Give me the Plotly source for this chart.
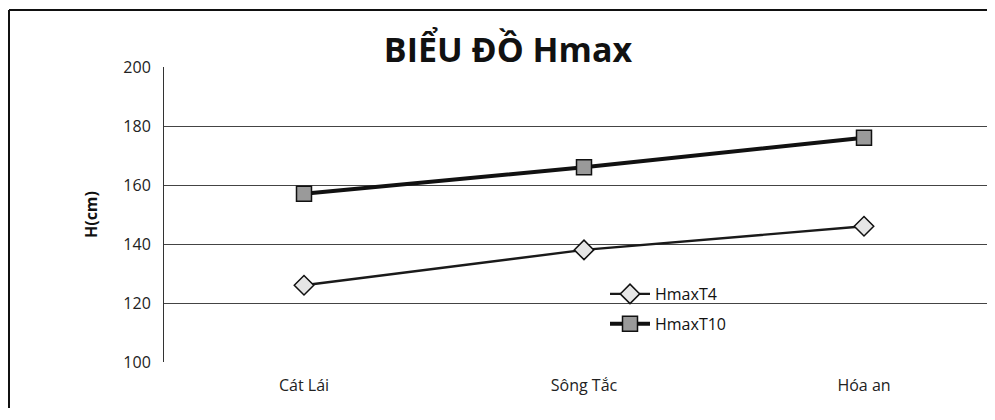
import plotly.graph_objects as go

# dữ liệu
tram = ["Cát Lái", "Sông Tắc", "Hóa an"]
hmax_t4 = [126, 138, 146]
hmax_t10 = [157, 166, 176]

# trang có lề 8px nên lùi toàn bộ lại 8px và giữ hình trong khung nhìn
OFF = 8
W, H = 995 - 2 * OFF, 400
L, R, T, B = 164 - OFF, 0, 67 - OFF, 400 - (362 - OFF)
pw, ph = W - L - R, H - T - B

fig = go.Figure()

fig.add_trace(go.Scatter(
    x=tram, y=hmax_t4, name="HmaxT4", mode="lines+markers", legendgroup="t4",
    line=dict(color="#1a1a1a", width=2.4),
    marker=dict(symbol="diamond", size=15, color="#e6e6e6",
                line=dict(color="#111111", width=1.5)),
))
fig.add_trace(go.Scatter(
    x=tram, y=hmax_t10, name="HmaxT10", mode="lines+markers", legendgroup="t10",
    line=dict(color="#111111", width=4),
    marker=dict(symbol="square", size=15, color="#9a9a9a",
                line=dict(color="#111111", width=1.5)),
))

# khung ngoài của biểu đồ
x0 = (1 - L) / pw
y0 = 1 + (T - 2) / ph
fig.add_shape(type="line", xref="paper", yref="paper", x0=x0, x1=x0, y0=-0.3, y1=y0,
              line=dict(color="#111111", width=2))
fig.add_shape(type="line", xref="paper", yref="paper", x0=x0, x1=1.0, y0=y0, y1=y0,
              line=dict(color="#111111", width=2))

fig.update_layout(
    width=W, height=H,
    margin=dict(l=L, r=R, t=T, b=B),
    paper_bgcolor="white", plot_bgcolor="white",
    font=dict(family="Open Sans, Liberation Sans, sans-serif", color="#222222", size=15),
    title=dict(text="<b>BIỂU ĐỒ Hmax</b>", x=(508 - OFF) / W, xanchor="center",
               y=1 - 42 / H, yanchor="middle",
               font=dict(size=34, color="#111111")),
    showlegend=True,
    legend=dict(x=(605 - 164) / pw, y=(362 - 277) / ph, xanchor="left", yanchor="top",
                bgcolor="rgba(0,0,0,0)", font=dict(size=16, color="#111111"),
                tracegroupgap=6, itemwidth=40),
    xaxis=dict(range=[-0.5, -0.5 + pw / 280], showgrid=False, zeroline=False,
               showline=False, ticks="outside", ticklen=9, tickcolor="rgba(0,0,0,0)",
               tickfont=dict(size=16, color="#222222")),
    yaxis=dict(range=[100, 200], dtick=20, showgrid=True, gridcolor="#444444",
               gridwidth=1, zeroline=False, showline=True, linecolor="#333333",
               linewidth=1, ticks="outside", ticklen=9, tickcolor="rgba(0,0,0,0)",
               tickfont=dict(size=16, color="#222222"),
               title=dict(text="<b>H(cm)</b>", font=dict(size=16, color="#111111"),
                          standoff=21)),
)

fig.write_html("out.html")
